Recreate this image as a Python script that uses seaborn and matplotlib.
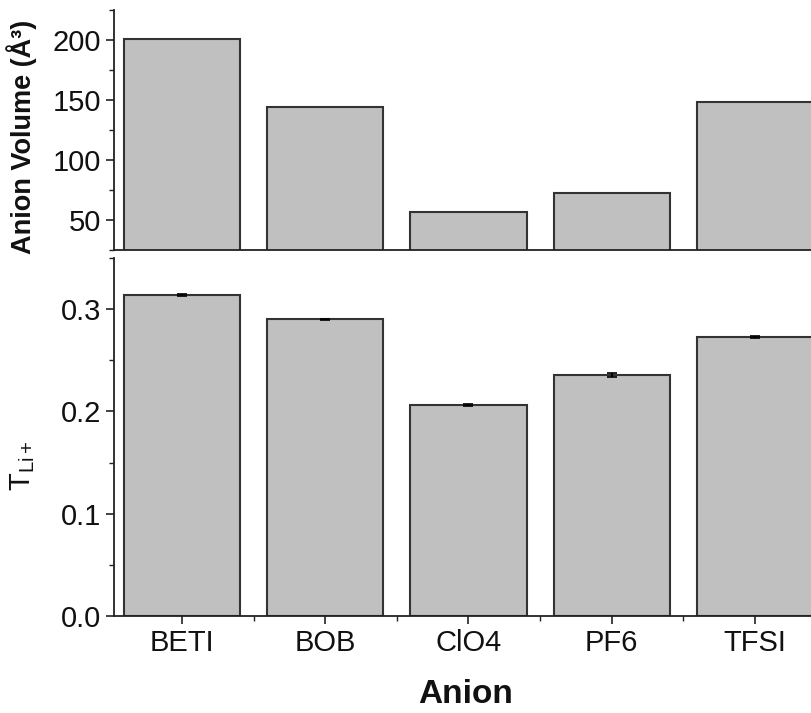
import matplotlib
matplotlib.use("Agg")
import matplotlib.pyplot as plt
import seaborn as sns
import pandas as pd
import numpy as np
from matplotlib.ticker import MultipleLocator, FixedLocator

anions = ["BETI", "BOB", "ClO4", "PF6", "TFSI"]
volume = [201, 144.5, 56.8, 72.7, 148]
t_li = [0.314, 0.290, 0.206, 0.2355, 0.2725]
t_err = [0.0012, 0.0006, 0.001, 0.0022, 0.0012]

sns.set_theme(style="ticks")
plt.rcParams["font.family"] = ["Liberation Sans", "DejaVu Sans"]
plt.rcParams["mathtext.fontset"] = "custom"
plt.rcParams["mathtext.rm"] = "Liberation Sans"
plt.rcParams["mathtext.it"] = "Liberation Sans"
plt.rcParams["mathtext.bf"] = "Liberation Sans:bold"

df = pd.DataFrame({"Anion": anions, "Volume": volume, "T": t_li})

fig = plt.figure(figsize=(8.12, 7.13), dpi=100)
W, H = 812, 713
left_px, right_px = 114, 823
ax1 = fig.add_axes([left_px / W, 1 - 250 / H, (right_px - left_px) / W, 240 / H])
ax2 = fig.add_axes([left_px / W, 1 - 616 / H, (right_px - left_px) / W, 358 / H])

bar_kw = dict(color="#c0c0c0", edgecolor="#333333", linewidth=1.5, width=0.81, saturation=1)
sns.barplot(data=df, x="Anion", y="Volume", ax=ax1, **bar_kw)
sns.barplot(data=df, x="Anion", y="T", ax=ax2, **bar_kw)
ax2.errorbar(np.arange(len(anions)), t_li, yerr=t_err, fmt="none", ecolor="black",
             elinewidth=1.5, capsize=3.5, capthick=1.2)

for ax in (ax1, ax2):
    ax.set_xlim(-0.475, 4.475)
    for s in ("top", "right"):
        ax.spines[s].set_visible(False)
    for s in ("left", "bottom"):
        ax.spines[s].set_linewidth(1.3)
        ax.spines[s].set_color("#222222")
    ax.tick_params(axis="both", which="major", direction="out", length=6, width=1.2,
                   color="#222222", labelsize=21, labelcolor="#111111")
    ax.tick_params(axis="both", which="minor", direction="out", length=3.5, width=1.0,
                   color="#222222")

ax1.set_ylim(25, 225)
ax1.yaxis.set_major_locator(FixedLocator([50, 100, 150, 200]))
ax1.yaxis.set_minor_locator(MultipleLocator(25))
ax1.set_xticks([])
ax1.tick_params(axis="x", which="both", length=0)
ax1.set_xlabel("")
ax1.set_ylabel("Anion Volume (Å³)", fontsize=19.5, fontweight="bold", color="#111111")
ax1.yaxis.set_label_coords(-0.108, 0.47)

ax2.set_ylim(0, 0.35)
ax2.yaxis.set_major_locator(FixedLocator([0.0, 0.1, 0.2, 0.3]))
ax2.yaxis.set_minor_locator(MultipleLocator(0.05))
ax2.xaxis.set_minor_locator(FixedLocator([-0.5, 0.5, 1.5, 2.5, 3.5, 4.5]))
ax2.yaxis.set_major_formatter(matplotlib.ticker.FormatStrFormatter("%.1f"))
ax2.set_xlabel("Anion", fontsize=24, fontweight="bold", color="#111111")
ax2.xaxis.set_label_coords(0.496, -0.175)
ax2.set_ylabel(r"T$_{\mathrm{Li+}}$", fontsize=21, color="#111111")
ax2.yaxis.set_label_coords(-0.108, 0.42)

fig.savefig("out.png", dpi=100)
